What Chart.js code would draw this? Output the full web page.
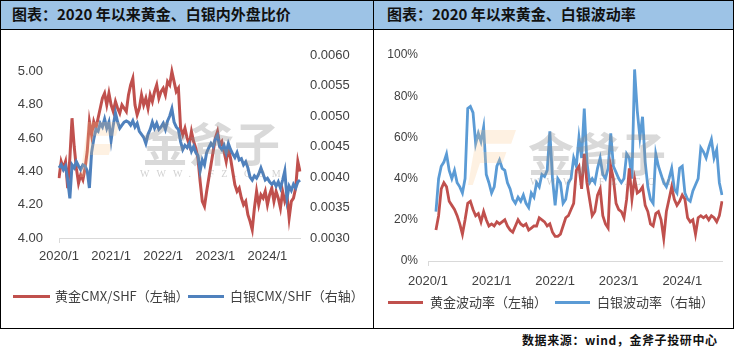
<!DOCTYPE html>
<html>
<head>
<meta charset="utf-8">
<script src="https://cdn.jsdelivr.net/npm/chart.js@4.4.1/dist/chart.umd.min.js"></script>
<style>
html, body { margin: 0; padding: 0; background: #fff; }
body { width: 734px; height: 351px; position: relative; overflow: hidden; font-family: "Noto Sans CJK SC", sans-serif; }
.abs { position: absolute; }
.hdr { position: absolute; top: 0; height: 29px; background: #9DC3E6; }
.title { position: absolute; top: 4px; font-size: 15px; font-weight: 700; color: #111; line-height: 20px; white-space: nowrap; }
.ln { position: absolute; height: 3px; }
.lt { position: absolute; font-size: 13px; line-height: 18px; color: #404040; white-space: nowrap; }
.wm { position: absolute; pointer-events: none; white-space: nowrap; }
</style>
</head>
<body>
<!-- headers -->
<div class="hdr" style="left:0;width:373px"></div>
<div class="hdr" style="left:374px;width:360px"></div>
<div class="title" style="left:12px">图表：2020 年以来黄金、白银内外盘比价</div>
<div class="title" style="left:387px">图表：2020 年以来黄金、白银波动率</div>

<!-- charts -->
<div class="abs" style="left:2px;top:30px;width:371px;height:250px"><canvas id="chartRatio" width="371" height="250"></canvas></div>
<div class="abs" style="left:374px;top:30px;width:358px;height:266px"><canvas id="chartVol" width="358" height="266"></canvas></div>

<!-- watermark -->
<div class="wm" style="left:80px;top:122px;width:40px;height:55px;background:rgba(250,200,140,.25);clip-path:polygon(20% 0,100% 0,90% 25%,35% 25%,30% 40%,80% 40%,72% 60%,25% 60%,10% 100%,0 100%)"></div>
<div class="wm" style="left:142px;top:108px;font-size:46px;color:rgba(140,140,140,.33);font-weight:700">金斧子</div>
<div class="wm" style="left:140px;top:168px;font-size:10px;letter-spacing:7px;color:rgba(140,140,140,.4);font-family:'Liberation Serif',serif">WWW.JFZ.COM</div>
<div class="wm" style="left:468px;top:130px;width:48px;height:55px;background:rgba(250,200,140,.25);clip-path:polygon(20% 0,100% 0,90% 25%,35% 25%,30% 40%,80% 40%,72% 60%,25% 60%,10% 100%,0 100%)"></div>
<div class="wm" style="left:528px;top:118px;font-size:46px;color:rgba(140,140,140,.33);font-weight:700">金斧子</div>
<div class="wm" style="left:530px;top:176px;font-size:10px;letter-spacing:7px;color:rgba(140,140,140,.4);font-family:'Liberation Serif',serif">WWW.JFZ.COM</div>

<!-- legends -->
<div class="ln" style="left:13px;top:295px;width:37px;background:#C0504D"></div>
<div class="lt" style="left:55px;top:287px">黄金CMX/SHF（左轴）</div>
<div class="ln" style="left:188px;top:295px;width:36px;background:#4F81BD"></div>
<div class="lt" style="left:230px;top:287px">白银CMX/SHF（右轴）</div>
<div class="ln" style="left:388px;top:301px;width:35px;background:#C0504D"></div>
<div class="lt" style="left:430px;top:293px">黄金波动率（左轴）</div>
<div class="ln" style="left:555px;top:301px;width:35px;background:#5B9BD5"></div>
<div class="lt" style="left:597px;top:293px">白银波动率（右轴）</div>

<!-- frame -->
<div class="abs" style="left:0;top:0;width:734px;height:329px;border:1px solid #000;box-sizing:border-box"></div>
<div class="abs" style="left:0;top:29px;width:734px;height:1px;background:#000"></div>
<div class="abs" style="left:373px;top:0;width:1px;height:329px;background:#000"></div>

<div class="abs" style="left:522px;top:331px;font-size:12px;font-weight:700;color:#111;line-height:18px;letter-spacing:0.6px;white-space:nowrap">数据来源：wind，金斧子投研中心</div>

<script>
// ─── Data (half-month samples, 2020/1 – 2024/8) ─────────────────────────────
const labels = [];
for (let y = 2020; y <= 2024; y++) {
    for (let m = 1; m <= 12; m++) {
        if (y === 2024 && m > 8) break;
        labels.push(`${y}/${m}/1`, `${y}/${m}/16`);
    }
}
const yearTicks = ['2020/1', '2021/1', '2022/1', '2023/1', '2024/1'];

const goldRatio = [
    4.36, 4.46, 4.42, 4.46, 4.30, 4.48, 4.72, 4.55, 4.42, 4.33,
    4.38, 4.35, 4.42, 4.52, 4.70, 4.62, 4.70, 4.66, 4.72, 4.78,
    4.84, 4.87, 4.80, 4.87, 4.80, 4.76, 4.82, 4.78, 4.75, 4.80,
    4.78, 4.76, 4.86, 4.92, 4.96, 4.80, 4.74, 4.78, 4.86, 4.80,
    4.84, 4.78, 4.86, 4.82, 4.88, 4.92, 4.84, 4.88, 4.90, 4.86,
    4.94, 4.92, 5.00, 4.94, 4.88, 4.90, 4.66, 4.62, 4.66, 4.60,
    4.56, 4.64, 4.58, 4.54, 4.48, 4.34, 4.22, 4.19, 4.28, 4.36,
    4.44, 4.52, 4.60, 4.64, 4.56, 4.58, 4.52, 4.46, 4.54, 4.48,
    4.40, 4.32, 4.28, 4.30, 4.24, 4.20, 4.22, 4.14, 4.10, 4.05,
    4.18, 4.28, 4.20, 4.26, 4.24, 4.28, 4.20, 4.26, 4.30, 4.22,
    4.28, 4.24, 4.18, 4.28, 4.22, 4.26, 4.12, 4.22, 4.24, 4.30,
    4.46, 4.40,
];
const silverRatio = [
    0.00415, 0.00420, 0.00412, 0.00418, 0.00395, 0.00365, 0.00420, 0.00415, 0.00425, 0.00418,
    0.00412, 0.00420, 0.00418, 0.00410, 0.00382, 0.00440, 0.00462, 0.00478, 0.00475, 0.00488,
    0.00482, 0.00495, 0.00480, 0.00490, 0.00460, 0.00485, 0.00505, 0.00490, 0.00480, 0.00485,
    0.00490, 0.00492, 0.00490, 0.00485, 0.00492, 0.00482, 0.00488, 0.00475, 0.00470, 0.00465,
    0.00455, 0.00470, 0.00478, 0.00490, 0.00480, 0.00488, 0.00478, 0.00482, 0.00488, 0.00478,
    0.00492, 0.00500, 0.00512, 0.00490, 0.00482, 0.00478, 0.00458, 0.00445, 0.00452, 0.00448,
    0.00455, 0.00442, 0.00450, 0.00440, 0.00435, 0.00410, 0.00428, 0.00420, 0.00440, 0.00448,
    0.00455, 0.00450, 0.00462, 0.00468, 0.00450, 0.00445, 0.00452, 0.00440, 0.00455, 0.00445,
    0.00438, 0.00432, 0.00440, 0.00428, 0.00430, 0.00420, 0.00425, 0.00415, 0.00400, 0.00395,
    0.00402, 0.00398, 0.00405, 0.00415, 0.00405, 0.00395, 0.00398, 0.00392, 0.00388, 0.00392,
    0.00385, 0.00392, 0.00382, 0.00395, 0.00410, 0.00365, 0.00385, 0.00378, 0.00388, 0.00382,
    0.00392, 0.00395,
];
const goldVol = [
    null, null, null, 15, 22, 35, 38, 36, 29, 27,
    25, 22, 18, 13, 20, 28, 29, 25, 22, 23,
    19, 24, 20, 17, 18, 17, 19, 18, 19, 20,
    17, 15, 14, 17, 20, 18, 17, 18, 15, 16,
    17, 17, 21, 20, 19, 17, 18, 14, 12, 12,
    13, 17, 21, 22, 25, 28, 44, 46, 35, 52,
    38, 30, 22, 24, 32, 35, 22, 18, 16, 46,
    40, 28, 25, 24, 21, 30, 45, 30, 40, 33,
    34, 36, 27, 24, 18, 17, 23, 24, 20, 11,
    24, 30, 36, 30, 27, 29, 32, 30, 21, 19,
    20, 13, 21, 22, 21, 22, 20, 22, 21, 19,
    22, 29,
];
const silverVol = [
    null, null, null, 24, 40, 46, 48, 52, 44, 40,
    44, 38, 36, 33, 40, 74, 75, 72, 57, 62,
    58, 65, 42, 38, 33, 36, 46, 49, 45, 44,
    38, 35, 30, 28, 31, 29, 32, 28, 26, 33,
    31, 38, 36, 42, 41, 44, 63, 40, 27, 40,
    38, 28, 30, 38, 40, 50, 46, 60, 50, 74,
    48, 38, 40, 38, 45, 50, 42, 40, 45, 62,
    46, 43, 40, 38, 40, 52, 50, 40, 93, 73,
    60, 70, 48, 36, 30, 28, 52, 46, 42, 38,
    36, 40, 45, 35, 33, 45, 46, 33, 30, 29,
    34, 37, 40, 55, 53, 50, 55, 59, 50, 54,
    38, 32,
];

const ratioTicksLeft = [4.0, 4.2, 4.4, 4.6, 4.8, 5.0];
const ratioTicksRight = [0.003, 0.0035, 0.004, 0.0045, 0.005, 0.0055, 0.006];
const volTicks = [0, 20, 40, 60, 80, 100];

// ─── Shared bits ──────────────────────────────────────────────────────────────
const RED = '#C0504D';
const AXIS = '#d9d9d9';
const TEXT = '#404040';
const numFont = { family: '"Liberation Sans", Arial, sans-serif', size: 13 };

const isYearTick = i => {
    const l = labels[i];
    return l.endsWith('/1/1') && yearTicks.includes(l.slice(0, -2));
};

function xAxis(height, pad) {
    return {
        type: 'category',
        afterFit: s => { s.height = height; },
        border: { display: true, color: AXIS, width: 1 },
        grid: {
            drawOnChartArea: false,
            drawTicks: true,
            tickLength: 5,
            color: ctx => (isYearTick(ctx.index) ? AXIS : 'rgba(0,0,0,0)'),
        },
        ticks: {
            autoSkip: false,
            maxRotation: 0,
            padding: pad,
            color: TEXT,
            font: numFont,
            callback: (v, i) => (isYearTick(i) ? labels[i].slice(0, -2) : null),
        },
    };
}

function yAxis(pos, width, min, max, tickList, fmt, font, pad) {
    return {
        position: pos,
        min,
        max,
        afterFit: s => { s.width = width; },
        afterBuildTicks: s => { s.ticks = tickList.map(v => ({ value: v })); },
        border: { display: false },
        grid: { display: false, drawTicks: false },
        ticks: { color: TEXT, font, padding: pad, callback: fmt },
    };
}

const line = (data, color, axis, order, width) => ({
    data,
    borderColor: color,
    backgroundColor: color,
    borderWidth: width,
    pointRadius: 0,
    tension: 0,
    yAxisID: axis,
    order,
});

const baseOpts = {
    responsive: false,
    animation: false,
    devicePixelRatio: 1,
    plugins: { legend: { display: false }, tooltip: { enabled: false } },
};

// ─── Left: 内外盘比价 ─────────────────────────────────────────────────────────
new Chart(document.getElementById('chartRatio'), {
    type: 'line',
    data: {
        labels,
        datasets: [
            line(goldRatio, RED, 'y', 1, 3),
            line(silverRatio, '#4F81BD', 'y2', 0, 3),
        ],
    },
    options: {
        ...baseOpts,
        layout: { padding: { top: 25, left: 0, right: 0, bottom: 0 } },
        scales: {
            x: xAxis(42, 6),
            y: yAxis('left', 57, 4.0, 5.1, ratioTicksLeft, v => v.toFixed(2), numFont, 16),
            y2: yAxis('right', 73, 0.003, 0.006, ratioTicksRight, v => v.toFixed(4), numFont, 10),
        },
    },
});

// ─── Right: 波动率 ────────────────────────────────────────────────────────────
new Chart(document.getElementById('chartVol'), {
    type: 'line',
    data: {
        labels,
        datasets: [
            line(goldVol, RED, 'y', 0, 2.8),
            line(silverVol, '#5B9BD5', 'y', 1, 2.8),
        ],
    },
    options: {
        ...baseOpts,
        layout: { padding: { top: 25, left: 0, right: 10, bottom: 0 } },
        scales: {
            x: xAxis(35, 8),
            y: yAxis('left', 54, 0, 100, volTicks, v => v + '%',
                { family: '"Liberation Sans", Arial, sans-serif', size: 12 }, 10),
        },
    },
});
</script>
</body>
</html>
